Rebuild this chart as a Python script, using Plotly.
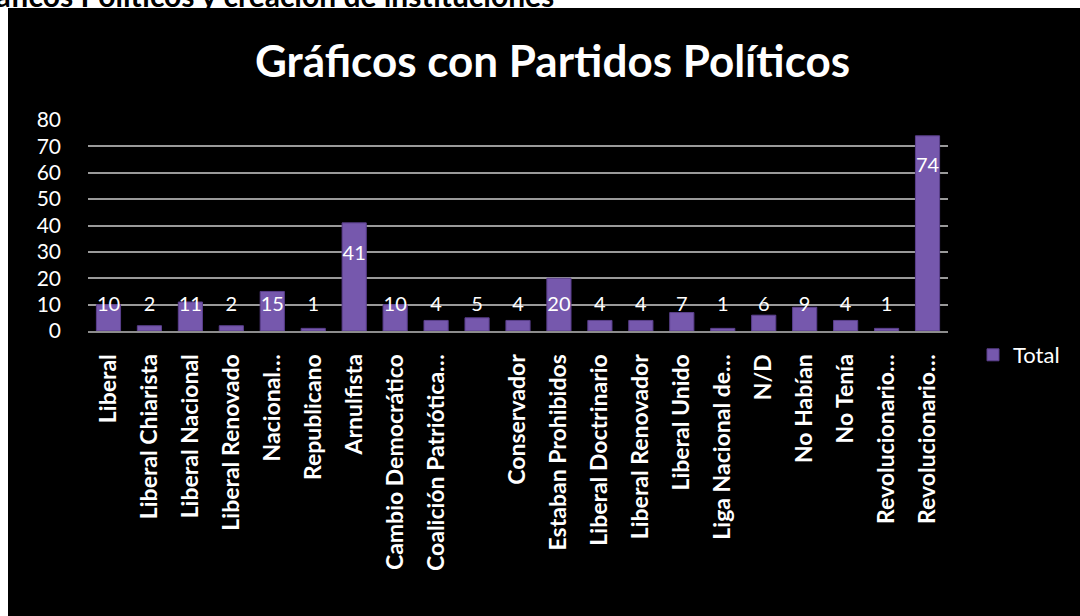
import plotly.graph_objects as go

categories = ["Liberal", "Liberal Chiarista", "Liberal Nacional", "Liberal Renovado",
              "Nacional…", "Republicano", "Arnulfista", "Cambio Democrático",
              "Coalición Patriótica…", "", "Conservador", "Estaban Prohibidos",
              "Liberal Doctrinario", "Liberal Renovador", "Liberal Unido",
              "Liga Nacional de…", "N/D", "No Habían", "No Tenía",
              "Revolucionario…", "Revolucionario…"]
values = [10, 2, 11, 2, 15, 1, 41, 10, 4, 5, 4, 20, 4, 4, 7, 1, 6, 9, 4, 1, 74]
y_ticks = [0, 10, 20, 30, 40, 50, 60, 70, 80]
series_name = "Total"
title_text = "Gráficos con Partidos Políticos"
header_text = "Gráficos Políticos y creación de instituciones"

x = list(range(len(categories)))
label_y = [max(v - 12, 9.6) for v in values]

W, H = 1080, 616
ML, MR, MT, MB = 88, 132, 120, 285
pw, ph = W - ML - MR, H - MT - MB

def px_x(p):
    return (p - ML) / pw

def px_y(p):
    return (H - MB - p) / ph

FONT = "Lato"

fig = go.Figure()
fig.add_trace(go.Bar(
    x=x, y=values, name=series_name,
    marker=dict(color="#7658ad", line=dict(color="#5a3f8c", width=1)),
    width=0.59,
))
fig.add_trace(go.Scatter(
    x=x, y=label_y, mode="text", text=[str(v) for v in values],
    textfont=dict(color="white", size=20, family=FONT),
    showlegend=False, hoverinfo="skip",
))

shapes = [
    dict(type="rect", xref="paper", yref="paper", x0=px_x(8), x1=px_x(W + 2),
         y0=px_y(H + 2), y1=px_y(8), fillcolor="black", line=dict(width=0), layer="below"),
]

fig.update_layout(
    width=W, height=H,
    margin=dict(l=ML, r=MR, t=MT, b=MB, autoexpand=False),
    paper_bgcolor="white",
    plot_bgcolor="#404040",
    font=dict(family=FONT, color="white"),
    bargap=0.4,
    showlegend=True,
    legend=dict(x=px_x(973), y=px_y(355), xanchor="left", yanchor="middle",
                font=dict(size=22, color="white", family=FONT),
                bgcolor="rgba(0,0,0,0)"),
    shapes=shapes,
    annotations=[
        dict(text="<b>" + title_text + "</b>", xref="paper", yref="paper",
             x=px_x(552), y=px_y(60), xanchor="center", yanchor="middle",
             showarrow=False, font=dict(size=44, color="white", family=FONT)),
        dict(text="<b>" + header_text + "</b>", xref="paper", yref="paper",
             x=px_x(556), y=px_y(15), xanchor="right", yanchor="bottom",
             showarrow=False, font=dict(size=30, color="black", family=FONT)),
    ],
    xaxis=dict(
        tickmode="array", tickvals=x, ticktext=["<b>" + c + "</b>" if c else "" for c in categories],
        tickangle=-90, tickfont=dict(size=23, color="white", family=FONT),
        range=[-0.5, len(categories) - 0.5],
        showgrid=False, showline=True, linecolor="#8c8c8c", linewidth=2,
        ticks="", ticklabelstandoff=12, fixedrange=True,
    ),
    yaxis=dict(
        range=[0, 80], tickmode="array", tickvals=y_ticks,
        tickfont=dict(size=21, color="white", family=FONT),
        showgrid=True, gridcolor="#9a9a9a", gridwidth=2,
        zeroline=False, showline=False, ticks="", ticklabelstandoff=26,
        fixedrange=True,
    ),
)

fig.write_html("out.html", config={"displayModeBar": False},
               post_script="document.body.style.margin='0';")
